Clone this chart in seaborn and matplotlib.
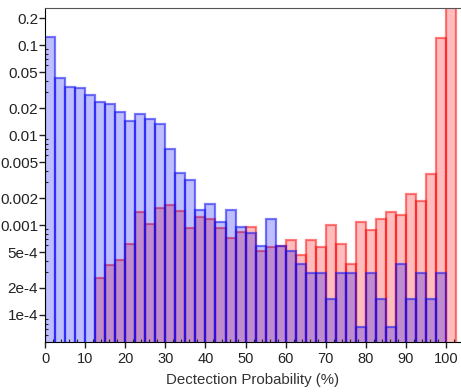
import numpy as np
import pandas as pd
import matplotlib
matplotlib.use('Agg')
import matplotlib.pyplot as plt
from matplotlib.ticker import FixedLocator, FixedFormatter, MultipleLocator, LogLocator, NullFormatter
import seaborn as sns

# bins of 2.5 %, from 0 to 102.5
bin_edges = np.arange(0, 103.0, 2.5)
bin_centers = bin_edges[:-1] + 1.25

# blue series (one value per bin, last bin empty)
blue_vals = [0.123, 0.0433, 0.0344, 0.0336, 0.028, 0.0233, 0.0225, 0.0179, 0.0144, 0.0170,
             0.0152, 0.0133, 0.0070, 0.0038, 0.0032, 0.00148, 0.0017, 0.00108, 0.00147, 0.00096,
             0.00081, 0.00059, 0.00118, 0.00058, 0.00052, 0.000366, 0.00029, 0.00029, 0.000149, 0.00029,
             0.00029, 0.000074, 0.00029, 0.000149, 0.000074, 0.000366, 0.000149, 0.00029, 0.000149, 0.00029,
             0.0]

# red series
red_vals = [0.0, 0.0, 0.0, 0.0, 0.0, 0.000256, 0.000362, 0.000412, 0.000615, 0.00139,
            0.00103, 0.00155, 0.00167, 0.00143, 0.00093, 0.00124, 0.00118, 0.00093, 0.00071, 0.00083,
            0.00094, 0.00052, 0.000574, 0.00058, 0.00068, 0.000468, 0.000675, 0.000574, 0.00099, 0.00061,
            0.000366, 0.00109, 0.00087, 0.00118, 0.00141, 0.00131, 0.00221, 0.00185, 0.00371, 0.1205,
            0.3]

ytick_vals = [1e-4, 2e-4, 5e-4, 0.001, 0.002, 0.005, 0.01, 0.02, 0.05, 0.1, 0.2]
ytick_labels = ['1e-4', '2e-4', '5e-4', '0.001', '0.002', '0.005', '0.01', '0.02', '0.05', '0.1', '0.2']

df = pd.DataFrame({'center': bin_centers, 'blue': blue_vals, 'red': red_vals})

plt.rcParams['font.family'] = ['Liberation Sans', 'DejaVu Sans']

fig = plt.figure(figsize=(4.61, 3.92), dpi=100)
ax = fig.add_axes([45 / 461, 1 - 342 / 392, 416 / 461, 334 / 392])

sns.histplot(data=df, x='center', weights='red', binwidth=2.5, binrange=(0, 102.5), ax=ax,
             facecolor=(1, 0, 0, 0.26), edgecolor=(1, 0, 0, 0.5), linewidth=1.6)
sns.histplot(data=df, x='center', weights='blue', binwidth=2.5, binrange=(0, 102.5), ax=ax,
             facecolor=(0, 0, 1, 0.25), edgecolor=(0.05, 0.05, 0.95, 0.55), linewidth=1.6)

ax.set_yscale('log')
ax.set_ylim(5e-5, 0.26)
ax.set_xlim(0, 103.7)

ax.yaxis.set_major_locator(FixedLocator(ytick_vals))
ax.yaxis.set_major_formatter(FixedFormatter(ytick_labels))
ax.yaxis.set_minor_locator(LogLocator(base=10, subs=np.arange(2, 10) * 1.0, numticks=20))
ax.yaxis.set_minor_formatter(NullFormatter())
ax.xaxis.set_major_locator(MultipleLocator(10))
ax.xaxis.set_minor_locator(MultipleLocator(2))

ax.tick_params(axis='both', which='major', direction='out', length=4, width=1, colors='#222222')
ax.tick_params(axis='x', which='major', labelsize=10.5, pad=3)
ax.tick_params(axis='y', which='major', labelsize=11, pad=1)
ax.tick_params(axis='both', which='minor', direction='in', length=2, width=0.8, colors='#222222')

ax.set_xlabel('Dectection Probability (%)', fontsize=10.8, color='#333333', labelpad=5)
ax.set_ylabel('')

ax.spines['left'].set_color('black')
ax.spines['bottom'].set_color('black')
ax.spines['top'].set_color('#555555')
ax.spines['right'].set_visible(False)

fig.savefig('out.png', dpi=100)
